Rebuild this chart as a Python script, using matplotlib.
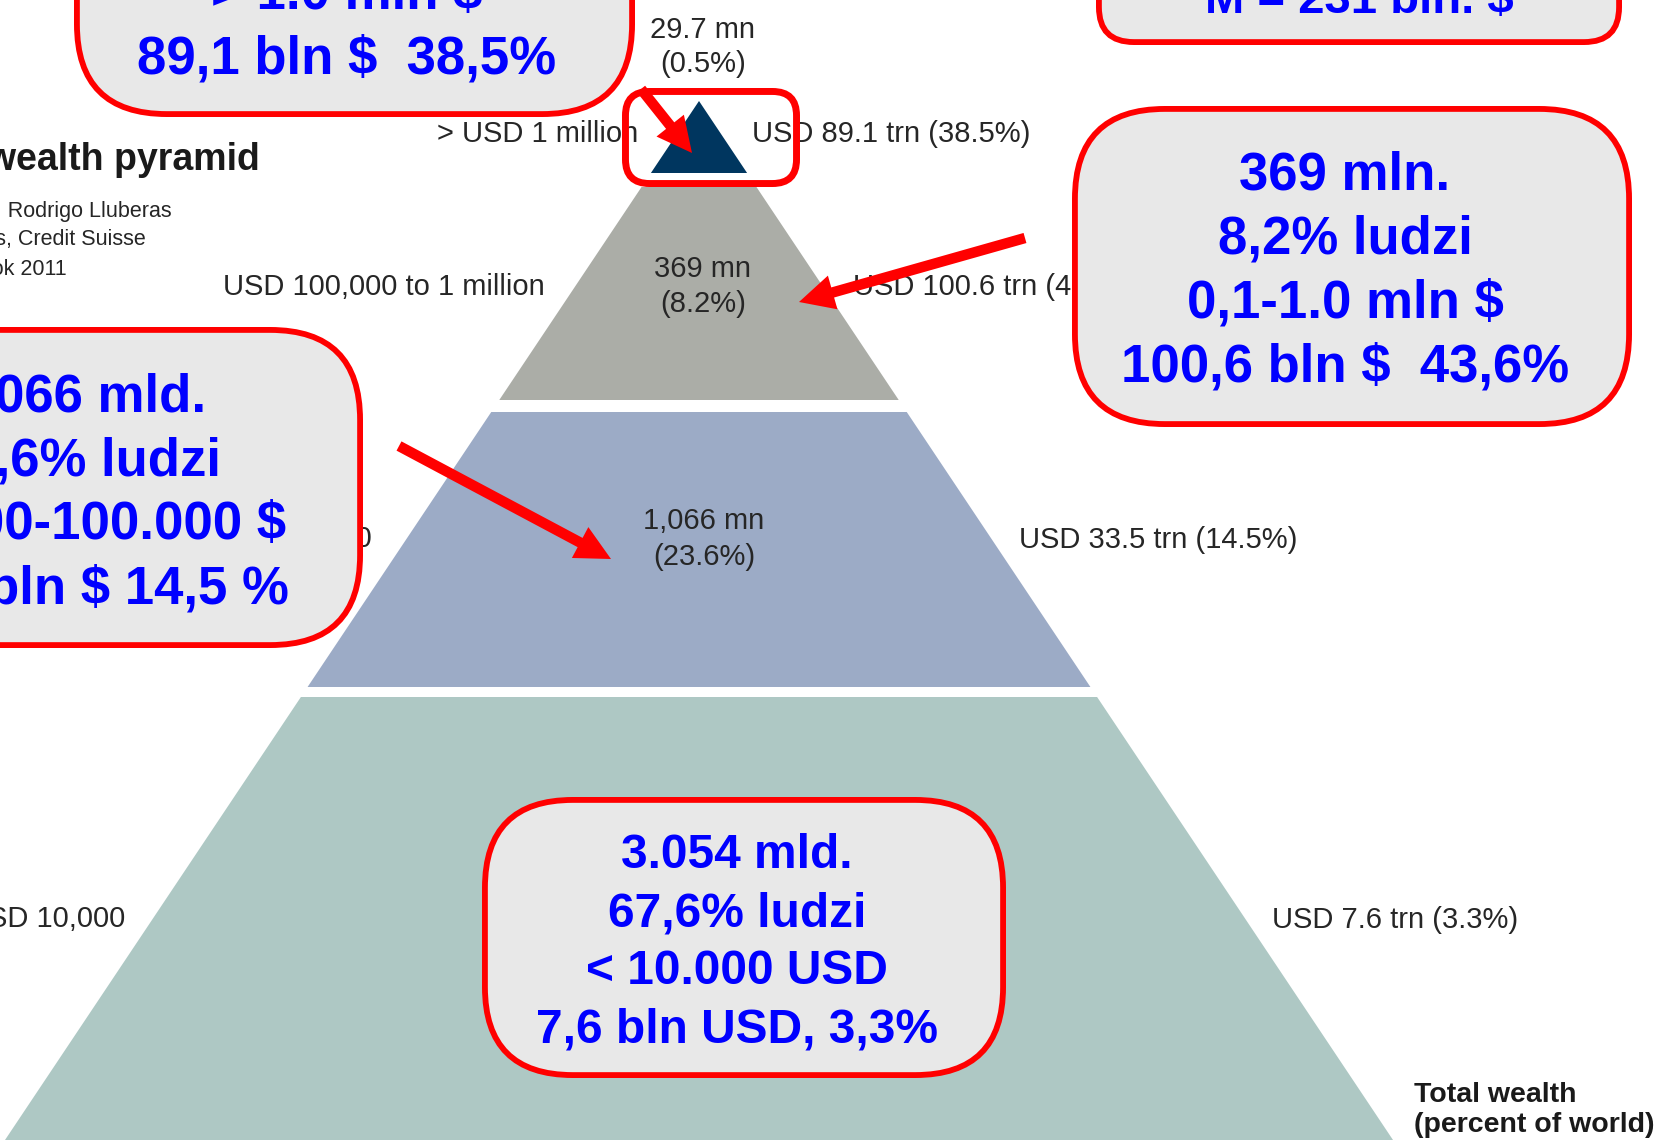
import matplotlib
matplotlib.use("Agg")
import matplotlib.pyplot as plt
from matplotlib.patches import Polygon, FancyBboxPatch, FancyArrow

# ---------------- data ----------------
bands = ["> USD 1 million", "USD 100,000 to 1 million",
         "USD 10,000 to 100,000", "< USD 10,000"]
adults = ["29.7 mn", "369 mn", "1,066 mn"]
adults_pct = [0.5, 8.2, 23.6]
wealth_trn = [89.1, 100.6, 33.5, 7.6]
wealth_pct = [38.5, 43.6, 14.5, 3.3]
band_colors = ["#00365F", "#ABADA7", "#9CABC6", "#AEC8C4"]

title_lines = ["The global wealth pyramid"]
source_lines = ["Source: James Davies, Rodrigo Lluberas",
                "and Anthony Shorrocks, Credit Suisse",
                "Global Wealth Databook 2011"]
axis_note = ["Total wealth", "(percent of world)"]

box_top = ["> 1.0 mln $", "89,1 bln $  38,5%"]
box_sum = ["M = 231 bln. $"]
box_upper = ["369 mln.", "8,2% ludzi", "0,1-1.0 mln $", "100,6 bln $  43,6%"]
box_middle = ["1,066 mld.", "23,6% ludzi", "10.000-100.000 $", "33,5 bln $ 14,5 %"]
box_base = ["3.054 mld.", "67,6% ludzi", "< 10.000 USD", "7,6 bln USD, 3,3%"]

# ---------------- layout ----------------
W, H = 1663, 1146
fig = plt.figure(figsize=(W / 100, H / 100), dpi=100)
ax = fig.add_axes([0, 0, 1, 1])
ax.set_xlim(0, W)
ax.set_ylim(H, 0)
ax.axis("off")

FONT = "Liberation Sans"
LBL = dict(family=FONT, fontsize=21, color="#262626")
BOX_BLUE = "#0000FF"
RED = "#FF0000"
FILL = "#E8E8E8"

apex_x, apex_y, base_y, base_half = 699, 101, 1140, 694
slope = base_half / (base_y - apex_y)
band_y = [(101, 173), (187, 400), (412, 687), (697, 1140)]


def hw(y):
    return (y - apex_y) * slope


for (t, b), col in zip(band_y, band_colors):
    pts = [(apex_x - hw(t), t), (apex_x + hw(t), t),
           (apex_x + hw(b), b), (apex_x - hw(b), b)]
    ax.add_patch(Polygon(pts, closed=True, facecolor=col, edgecolor="none", zorder=1))

# adults count labels inside / above the pyramid
cnt_pos = [(703, 38, 72), (703, 277, 312), (704, 529, 565)]
for (x, y1, y2), a, p in zip(cnt_pos, adults, adults_pct):
    ax.text(x, y1, a, ha="center", va="baseline", zorder=2, **LBL)
    ax.text(x, y2, f"({p}%)", ha="center", va="baseline", zorder=2, **LBL)

# band labels (left)
band_pos = [(638, 142), (545, 295), (372, 547), (125, 927)]
for (x, y), s in zip(band_pos, bands):
    ax.text(x, y, s, ha="right", va="baseline", zorder=2, **LBL)

# wealth labels (right)
wealth_pos = [(752, 142), (853, 295), (1019, 548), (1272, 928)]
for (x, y), w, p in zip(wealth_pos, wealth_trn, wealth_pct):
    ax.text(x, y, f"USD {w} trn ({p}%)", ha="left", va="baseline", zorder=2, **LBL)

# title and source (cut by the left edge, as in the reference crop)
ax.text(260, 170, title_lines[0], ha="right", va="baseline", family=FONT,
        fontsize=27, fontweight="bold", color="#1a1a1a", zorder=2)
for (x, y), s in zip([(172, 217), (146, 245), (67, 275)], source_lines):
    ax.text(x, y, s, ha="right", va="baseline", family=FONT, fontsize=15.5,
            color="#262626", zorder=2)

ax.text(1414, 1102, axis_note[0], ha="left", va="baseline", family=FONT,
        fontsize=20.5, fontweight="bold", color="#1a1a1a", zorder=2)
ax.text(1414, 1132, axis_note[1], ha="left", va="baseline", family=FONT,
        fontsize=20.5, fontweight="bold", color="#1a1a1a", zorder=2)


# ---------------- call-out boxes ----------------
def callout(left, top, right, bottom, radius, lines, cx, baselines, fs, lw=4.2):
    inset = lw * 100 / 72 / 2
    x0, y0 = left + inset, top + inset
    w, h = (right - left) - 2 * inset, (bottom - top) - 2 * inset
    ax.add_patch(FancyBboxPatch((x0, y0), w, h,
                                boxstyle=f"round,pad=0,rounding_size={radius}",
                                facecolor=FILL, edgecolor=RED, linewidth=lw, zorder=5))
    for s, yb in zip(lines, baselines):
        ax.text(cx, yb, s, ha="center", va="baseline", family=FONT, fontsize=fs,
                fontweight="bold", color=BOX_BLUE, zorder=6)


callout(74, -204, 635, 117, 90, box_top, 347, [9, 73], 38)
callout(1096, -80, 1622, 45, 35, box_sum, 1359, [13], 34)
callout(1072, 106, 1632, 427, 90, box_upper, 1345, [190, 254, 318, 382], 38)
callout(-197, 327, 363, 648, 90, box_middle, 79, [412, 475, 539, 603], 38)
callout(482, 797, 1006, 1078, 88, box_base, 737, [868, 926, 984, 1042], 34.5)

# small red frame around the apex
lw_s = 5.0
ins = lw_s * 100 / 72 / 2
ax.add_patch(FancyBboxPatch((622 + ins, 88 + ins), 178 - 2 * ins, 99 - 2 * ins,
                            boxstyle="round,pad=0,rounding_size=24",
                            facecolor="none", edgecolor=RED, linewidth=lw_s, zorder=7))

# ---------------- arrows ----------------
arrows = [((641, 89), (692, 153)),
          ((1025, 238), (799, 302)),
          ((399, 446), (611, 559))]
for (x0, y0), (x1, y1) in arrows:
    ax.add_patch(FancyArrow(x0, y0, x1 - x0, y1 - y0, width=10.5, head_width=35,
                            head_length=35, length_includes_head=True,
                            facecolor=RED, edgecolor="none", zorder=8))

fig.savefig("out.png", dpi=100)
